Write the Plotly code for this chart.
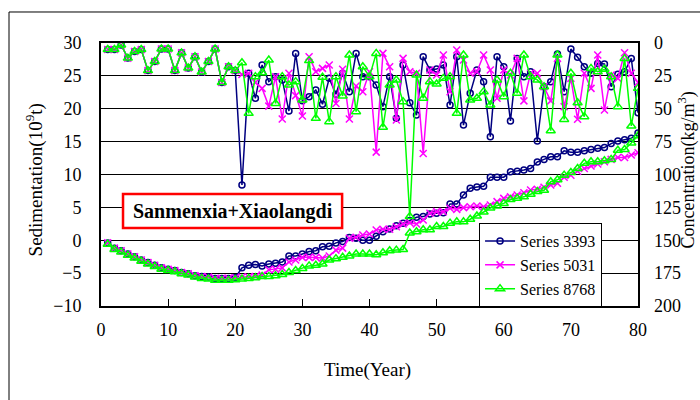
import plotly.graph_objects as go

years = list(range(1, 81))

# Sedimentation (10^9 t), left axis
sed_3393 = [-0.4, -1.2, -1.6, -2.1, -2.5, -3.0, -3.4, -3.8, -4.2, -4.4, -4.6, -4.9, -5.1, -5.4, -5.5, -5.6, -5.8, -5.8, -5.8, -5.7,
            -4.2, -3.8, -3.7, -3.9, -3.6, -3.5, -3.3, -2.4, -2.4, -2.1, -1.7, -1.6, -1.0, -0.9, -0.4, -0.2, 0.4, 0.3, 0.0, 0.0,
            0.6, 1.3, 1.7, 2.2, 2.6, 3.0, 3.5, 3.6, 4.0, 4.1, 4.2, 5.5, 5.5, 6.9, 7.9, 8.1, 8.2, 9.6, 9.6, 9.6,
            10.4, 10.5, 10.7, 10.9, 11.9, 12.3, 12.7, 12.7, 13.6, 13.4, 13.4, 13.6, 13.8, 14.0, 14.1, 14.7, 15.1, 15.3, 15.5, 16.3]
sed_5031 = [-0.4, -1.2, -1.6, -2.1, -2.5, -3.0, -3.4, -3.8, -4.2, -4.4, -4.6, -4.9, -5.1, -5.4, -5.5, -5.6, -5.8, -5.8, -5.8, -5.7,
            -5.6, -5.6, -5.5, -5.3, -4.5, -4.4, -4.2, -3.3, -3.0, -2.6, -2.6, -2.6, -2.7, -2.4, -1.5, -1.2, 0.3, 0.45, 0.8, 0.95,
            1.56, 1.66, 1.66, 2.06, 2.47, 2.67, 2.47, 3.08, 4.1, 4.35, 4.35, 4.86, 4.7, 4.96, 5.1, 5.2, 5.1, 5.36, 5.87, 6.37,
            6.6, 6.88, 7.23, 7.64, 7.75, 8.05, 8.4, 8.66, 9.57, 9.9, 10.5, 10.9, 11.3, 11.6, 11.95, 12.3, 12.6, 12.6, 12.97, 13.3]
sed_8768 = [-0.6, -1.4, -1.8, -2.3, -2.7, -3.2, -3.6, -4.0, -4.4, -4.6, -4.8, -5.1, -5.3, -5.6, -5.8, -5.9, -6.1, -6.1, -6.1, -6.0,
            -5.9, -5.8, -5.7, -5.5, -5.5, -5.4, -5.2, -4.9, -4.6, -4.3, -3.9, -3.8, -3.6, -3.0, -2.8, -2.6, -2.4, -2.1, -2.1, -2.1,
            -2.2, -1.9, -1.6, -1.5, -1.4, 1.1, 1.3, 1.6, 1.6, 2.1, 2.1, 2.6, 2.8, 2.8, 3.2, 3.7, 4.3, 4.9, 5.2, 5.6,
            6.2, 6.4, 6.6, 7.0, 7.4, 7.6, 8.9, 9.2, 9.9, 10.3, 10.9, 11.7, 11.95, 11.95, 12.1, 12.3, 13.7, 13.8, 14.8, 15.9]

# Concentration (kg/m3), right axis (reversed)
conc_common = [5, 5, 1.5, 11.5, 6.5, 5, 21, 14, 4.5, 4.5, 21, 7.5, 19, 10.5, 22, 14, 4.5, 30, 18, 21]
conc_3393 = conc_common + [108, 23, 42, 16.7, 29.4, 25.6, 28.1, 51.7, 7.9, 44, 40.8, 35.7, 46.6, 26.9, 39, 23, 37, 7.9, 25.6, 25.6,
                           32, 48.4, 25.6, 57.3, 16.7, 45.4, 54.8, 10.4, 20.5, 19.8, 16.7, 47.2, 10.4, 62.4, 38.3, 20.5, 29.4, 71.2, 10.4, 18,
                           59.3, 11.7, 25.6, 21.8, 74.5, 33.2, 29.4, 8.4, 37, 4.6, 10.9, 18, 23, 15.5, 16, 33.2, 23.8, 21.8, 11.7, 53]
conc_5031 = conc_common + [24, 23, 30, 34.5, 48, 25.6, 57.8, 23, 40, 55.5, 10.4, 21.8, 19.3, 16.7, 46, 20, 57.8, 32.7, 37, 21.8,
                           83, 7.9, 18, 58.6, 11.7, 21.8, 23, 84, 20.5, 24.3, 9.1, 37, 5.3, 12.9, 23, 21.8, 9.1, 20.5, 42, 20.5,
                           24.3, 11.7, 44, 23, 23, 33.2, 44, 11.7, 48.4, 26.9, 58, 23, 34.5, 9.1, 51, 24.3, 26.9, 7.4, 23, 30]
conc_8768 = conc_common + [15, 53.5, 25.6, 22.6, 13, 46, 25.6, 32, 29.4, 43.3, 13.4, 57.3, 26.1, 59.8, 25.6, 40.3, 9.1, 52.2, 18, 25.6,
                           7.9, 64.1, 32, 28.1, 44.6, 132, 24.3, 42, 29.4, 31.2, 26.9, 25.6, 53.5, 9.1, 43.3, 42, 37, 47.2, 28.1, 40.8,
                           23, 38.3, 9.1, 25.6, 28.1, 33.2, 66.7, 9.1, 58.1, 23, 45.4, 56, 19.3, 21.8, 20, 25.6, 48.4, 11.7, 63.1, 34.5]

names = ["Series 3393", "Series 5031", "Series 8768"]
colors = ["#000080", "#ff00ff", "#00ff00"]
symbols = ["circle-open", "x-thin", "triangle-up-open"]
sizes = [6, 7, 8]
sed = [sed_3393, sed_5031, sed_8768]
conc = [conc_3393, conc_5031, conc_8768]

FONT = "Liberation Serif, Times New Roman, serif"
fig = go.Figure()
for i in range(3):
    fig.add_trace(go.Scatter(
        x=years, y=conc[i], yaxis="y2", mode="lines+markers", showlegend=False,
        line=dict(color=colors[i], width=1.5),
        marker=dict(symbol=symbols[i], size=sizes[i], color=colors[i],
                    line=dict(color=colors[i], width=1.5))))
for i in range(3):
    fig.add_trace(go.Scatter(
        x=years, y=sed[i], name=names[i], mode="lines+markers",
        line=dict(color=colors[i], width=1.5),
        marker=dict(symbol=symbols[i], size=sizes[i], color=colors[i],
                    line=dict(color=colors[i], width=1.5))))

fig.update_layout(
    width=700, height=400,
    margin=dict(l=101, r=62, t=43, b=94, pad=0),
    paper_bgcolor="white", plot_bgcolor="white",
    font=dict(family=FONT, size=18, color="black"),
    xaxis=dict(range=[0, 80], dtick=10, ticks="inside", ticklen=7, tickcolor="black",
               showline=True, linewidth=2, linecolor="black", mirror=True,
               showgrid=False, zeroline=False, ticklabelstandoff=6,
               tickfont=dict(family=FONT, size=18)),
    yaxis=dict(range=[-10, 30], dtick=5, showgrid=True, gridcolor="black", gridwidth=1,
               zeroline=False, showline=True, linewidth=2, linecolor="black", mirror=True,
               ticks="", ticklabelstandoff=14, tickfont=dict(family=FONT, size=18)),
    yaxis2=dict(range=[200, 0], dtick=25, overlaying="y", side="right", showgrid=False,
                zeroline=False, showline=False, ticks="", ticklabelstandoff=15,
                tickfont=dict(family=FONT, size=18)),
    legend=dict(x=0.704, y=0.315, xanchor="left", yanchor="top",
                bgcolor="white", bordercolor="black", borderwidth=1, itemwidth=30,
                font=dict(family=FONT, size=16), tracegroupgap=0),
    shapes=[
        dict(type="rect", xref="paper", yref="paper", x0=-0.1713, y0=-0.376, x1=1.13, y1=1.1179,
             line=dict(color="black", width=1), layer="below"),
        dict(type="rect", xref="paper", yref="paper", x0=0.041, y0=0.2966, x1=0.449, y1=0.4259,
             line=dict(color="#ff0000", width=2.5), fillcolor="white", layer="above"),
    ],
    annotations=[
        dict(text="<b>Sanmenxia+Xiaolangdi</b>", xref="paper", yref="paper", x=0.245, y=0.361,
             xanchor="center", yanchor="middle",
             showarrow=False, font=dict(family=FONT, size=20, color="black")),
        dict(text="Time(Year)", xref="paper", yref="paper", x=0.497, y=-0.243,
             xanchor="center", yanchor="middle",
             showarrow=False, font=dict(family=FONT, size=19)),
        dict(text="Sedimentation(10<sup>9</sup>t)", xref="paper", yref="paper", x=-0.124, y=0.479,
             xanchor="center", yanchor="middle",
             textangle=-90, showarrow=False, font=dict(family=FONT, size=19)),
        dict(text="Concentration(kg/m<sup>3</sup>)", xref="paper", yref="paper", x=1.092, y=0.517,
             xanchor="center", yanchor="middle",
             textangle=-90, showarrow=False, font=dict(family=FONT, size=18)),
    ],
)
fig.write_html("out.html")
